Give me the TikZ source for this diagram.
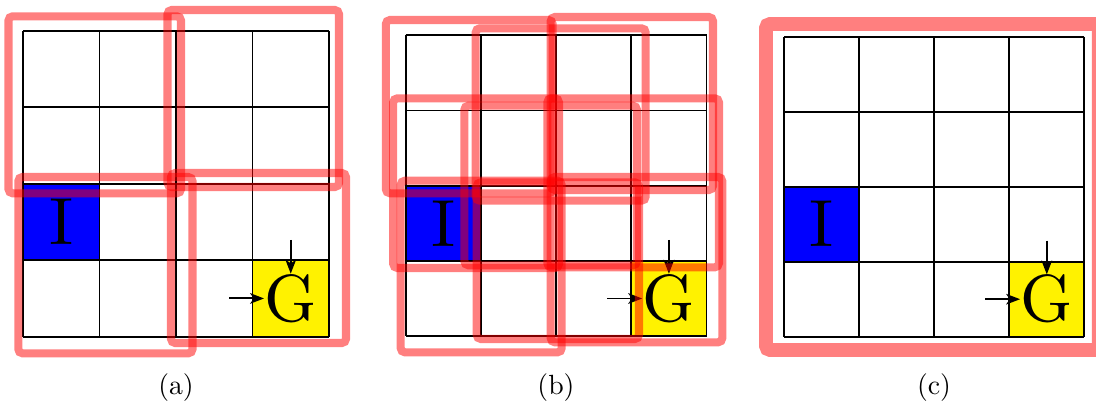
\documentclass[tikz,border=0pt]{standalone}
\usetikzlibrary{arrows.meta}

% one 4x4 grid world: left, top, cell size, tag
\newcommand{\gridworld}[4]{%
  \fill[initcell] ({#1},{#2+2*#3}) rectangle ({#1+#3},{#2+3*#3});
  \fill[goalcell] ({#1+3*#3},{#2+3*#3}) rectangle ({#1+4*#3},{#2+4*#3});
  \foreach \k in {0,...,4}{
    \draw[gridline] ({#1+\k*#3},{#2}) -- ({#1+\k*#3},{#2+4*#3});
    \draw[gridline] ({#1},{#2+\k*#3}) -- ({#1+4*#3},{#2+\k*#3});
  }
  \node[letter] (I#4) at ({#1+0.5*#3},{#2+2.5*#3}) {\scalebox{2.4}{I}};
  \node[letter] (G#4) at ({#1+3.5*#3},{#2+3.5*#3}) {\scalebox{2.4}{G}};
  \coordinate (GW#4) at ([xshift=-12.6pt]G#4.west);
  \coordinate (GN#4) at ([yshift=12.2pt]G#4.north);
  \draw[move] (GW#4) -- (G#4);
  \draw[move] (GN#4) -- (G#4);
}

\begin{document}
\begin{tikzpicture}[x=0.36pt,y=-0.36pt,
  initcell/.style={fill=blue},
  goalcell/.style={fill=yellow},
  gridline/.style={draw=black,line width=.65pt},
  letter/.style={inner sep=0pt},
  move/.style={-{Stealth[length=5pt,width=3.8pt,inset=1.3pt]},line width=.7pt},
  window/.style={draw=red,draw opacity=.5,line width=2.9pt,rounded corners=1.5pt},
  bigwindow/.style={window,line width=5pt}]
\useasboundingbox (0,0) rectangle (1096,402);

% (a) four disjoint blocks
\gridworld{23}{30.7}{76.5}{a}
\draw[window] (8.5,16.3) rectangle (181,193.3);
\draw[window] (167.5,10) rectangle (339,187);
\draw[window] (18.3,177) rectangle (192.5,353.3);
\draw[window] (171,173) rectangle (346,343);
\node (capa) at (176,387.5) {(a)};

% (b) nine overlapping blocks
\gridworld{405.7}{35.3}{75.2}{b}
\draw[window] (385.8,20) rectangle (552.7,193.3);
\draw[window] (475.7,28.3) rectangle (645.7,200.7);
\draw[window] (550.7,17) rectangle (713,190);
\draw[window] (393.2,98.3) rectangle (559,268);
\draw[window] (464.3,105.7) rectangle (637,265.3);
\draw[window] (547.3,98.3) rectangle (719,267.3);
\draw[window] (400.7,180.7) rectangle (561.7,352.3);
\draw[window] (476.7,182.3) rectangle (639,339);
\draw[window] (550.7,177) rectangle (722.3,342.3);
\node (capb) at (556,387.5) {(b)};

% (c) one block over the whole grid
\gridworld{784.3}{36.7}{75}{c}
\draw[bigwindow] (766,24) rectangle (1098.7,350);
\node (capc) at (934,387.5) {(c)};
\end{tikzpicture}
\end{document}
